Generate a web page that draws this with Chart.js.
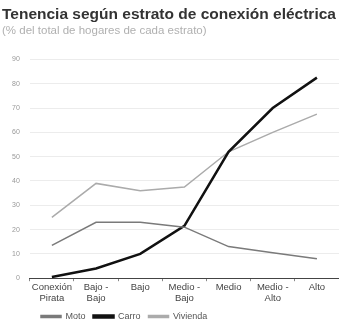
<!DOCTYPE html>
<html>
<head>
<meta charset="utf-8">
<script src="https://cdn.jsdelivr.net/npm/chart.js@4"></script>
<style>
  html, body { margin: 0; padding: 0; background: #fff; }
  #wrap { width: 339px; height: 328px; }
</style>
</head>
<body>
<div id="wrap"><canvas id="chart"></canvas></div>
<script>
const categories = [["Conexión", "Pirata"], ["Bajo -", "Bajo"], "Bajo", ["Medio -", "Bajo"], "Medio", ["Medio -", "Alto"], "Alto"];
const moto = [13.5, 23, 23, 21, 13, 10.5, 8];
const carro = [0.5, 4, 10, 21.5, 52, 70, 82.5];
const vivienda = [25, 39, 36, 37.5, 52, 60, 67.5];

// shift the legend right so it starts under the plot like the original
const legendShift = {
  id: "legendShift",
  afterLayout(chart) {
    chart.legend.left += 31;
    chart.legend.right += 31;
  }
};

new Chart(document.getElementById("chart"), {
  type: "line",
  data: {
    labels: categories,
    datasets: [
      { label: "Moto", data: moto, borderColor: "#7a7a7a", backgroundColor: "#7a7a7a", borderWidth: 1.5, pointRadius: 0, tension: 0 },
      { label: "Carro", data: carro, borderColor: "#111", backgroundColor: "#111", borderWidth: 2.5, pointRadius: 0, tension: 0 },
      { label: "Vivienda", data: vivienda, borderColor: "#ababab", backgroundColor: "#ababab", borderWidth: 1.5, pointRadius: 0, tension: 0 }
    ]
  },
  plugins: [legendShift],
  options: {
    responsive: true,
    maintainAspectRatio: false,
    animation: false,
    layout: { padding: { left: 2, right: 0, top: 5, bottom: -3 } },
    plugins: {
      title: {
        display: true, text: "Tenencia según estrato de conexión eléctrica",
        align: "start", color: "#333",
        font: { family: "Liberation Sans", size: 15.5, weight: "bold" },
        padding: { top: 0, bottom: 0 }
      },
      subtitle: {
        display: true, text: "(% del total de hogares de cada estrato)",
        align: "start", color: "#b0b0b0",
        font: { family: "Liberation Sans", size: 11.5 },
        padding: { top: 0, bottom: 22 }
      },
      legend: {
        position: "bottom", align: "start",
        labels: {
          boxWidth: 20, boxHeight: 2, padding: 8, color: "#555",
          font: { family: "Liberation Sans", size: 9 }
        }
      }
    },
    scales: {
      x: {
        offset: true,
        grid: { display: true, drawOnChartArea: false, offset: true, tickLength: 3, color: "#888" },
        border: { color: "#444" },
        ticks: { color: "#444", maxRotation: 0, autoSkip: false, font: { family: "Liberation Sans", size: 9.5 }, padding: 0 }
      },
      y: {
        min: 0, max: 90,
        grid: { color: "#ececec", drawTicks: false },
        border: { display: false },
        ticks: { stepSize: 10, color: "#999", padding: 10, font: { family: "Liberation Sans", size: 7 } }
      }
    }
  }
});
</script>
</body>
</html>
